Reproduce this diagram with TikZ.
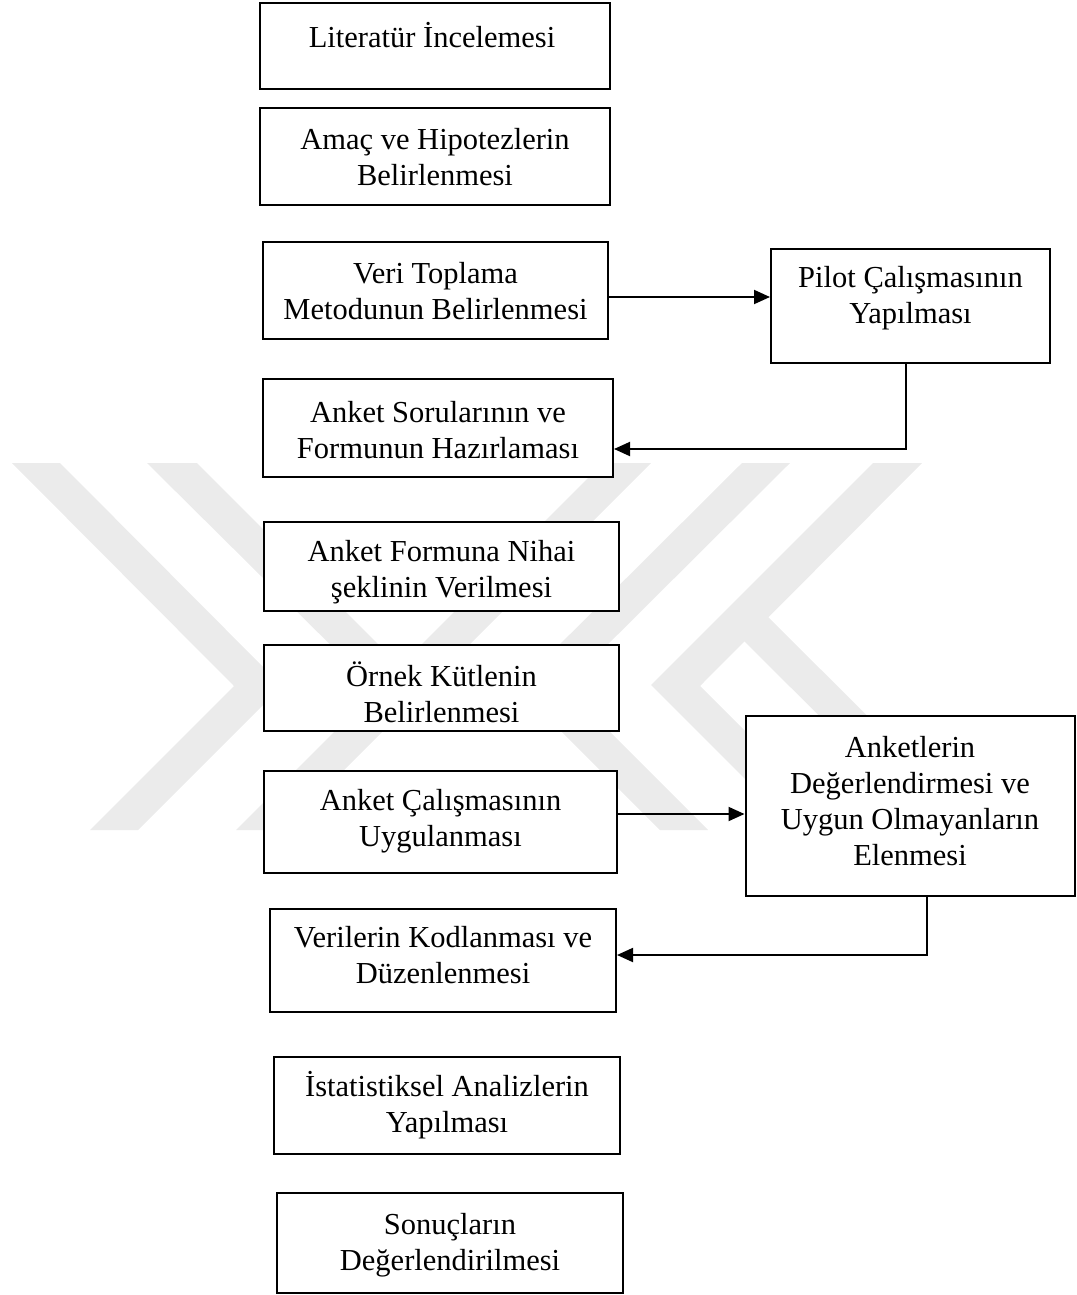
\documentclass[tikz,border=0pt]{standalone}
\usepackage{fontspec}
\setmainfont{Liberation Serif}
\usetikzlibrary{arrows.meta}
\tikzset{
  box/.style={draw=black, line width=2pt, fill=white, rectangle, inner sep=0pt},
  lbl/.style={align=center, inner sep=0pt, font=\fontsize{30.5}{36}\selectfont},
  arr/.style={line width=1.9pt, -{Triangle[length=16pt,width=14pt]}},
  wm/.style={fill=black!8, draw=none},
}
\begin{document}
\begin{tikzpicture}[x=1pt,y=-1pt]
\useasboundingbox (0,0) rectangle (1076,1295);
% faint watermark
\fill[wm] (12,463) -- (60,463) -- (282,686) -- (138,830) -- (90,830) -- (234,686) -- cycle;
\fill[wm] (147,463) -- (197,463) -- (423,689) -- (375,689) -- cycle;
\fill[wm] (603,463) -- (651,463) -- (284,830) -- (236,830) -- cycle;
\fill[wm] (742,463) -- (790,463) -- (565,687) -- (708,830) -- (660,830) -- (517,687) -- cycle;
\fill[wm] (873,463) -- (922,463) -- (700,686) -- (844,830) -- (796,830) -- (651,685) -- cycle;
\fill[wm] (768,617) -- (982,830) -- (934,830) -- (744,641) -- cycle;
% boxes
\node[box, minimum width=350, minimum height=86]  (b1) at (435,46) {};
\node[box, minimum width=350, minimum height=97]  (b2) at (435,156.5) {};
\node[box, minimum width=345, minimum height=97]  (b3) at (435.5,290.5) {};
\node[box, minimum width=350, minimum height=98]  (b4) at (438,428) {};
\node[box, minimum width=279, minimum height=114] (P)  at (910.5,306) {};
\node[box, minimum width=355, minimum height=89]  (b5) at (441.5,566.5) {};
\node[box, minimum width=355, minimum height=86]  (b6) at (441.5,688) {};
\node[box, minimum width=353, minimum height=102] (b7) at (440.5,822) {};
\node[box, minimum width=329, minimum height=180] (b8) at (910,806) {};
\node[box, minimum width=346, minimum height=103] (b9) at (443,960.5) {};
\node[box, minimum width=346, minimum height=97]  (b10) at (447,1105.5) {};
\node[box, minimum width=346, minimum height=100] (b11) at (450,1243) {};
% texts
\node[lbl] (t1) at (432,35) {Literatür İncelemesi};
\node[lbl] (t2) at (435,157.5) {Amaç ve Hipotezlerin\\Belirlenmesi};
\node[lbl] (t3) at (435.5,291) {Veri Toplama\\Metodunun Belirlenmesi};
\node[lbl] (t4) at (438,430.5) {Anket Sorularının ve\\Formunun Hazırlaması};
\node[lbl] (tP) at (910.5,298) {Pilot Çalışmasının\\Yapılması};
\node[lbl] (t5) at (441.5,572) {Anket Formuna Nihai\\şeklinin Verilmesi};
\node[lbl] (t6) at (441.5,692.5) {Örnek Kütlenin\\Belirlenmesi};
\node[lbl] (t7) at (440.5,821) {Anket Çalışmasının\\Uygulanması};
\node[lbl] (t8) at (910,801) {Anketlerin\\Değerlendirmesi ve\\Uygun Olmayanların\\Elenmesi};
\node[lbl] (t9) at (443,955) {Verilerin Kodlanması ve\\Düzenlenmesi};
\node[lbl] (t10) at (447,1105) {İstatistiksel Analizlerin\\Yapılması};
\node[lbl] (t11) at (450,1245) {Sonuçların\\Değerlendirilmesi};
% connectors
\coordinate (a1) at ([yshift=-6.5pt]b3.east);
\draw[arr] (a1) -- (a1 -| P.west);
\coordinate (a2) at ([xshift=-4.5pt]P.south);
\coordinate (a3) at ([yshift=-21pt]b4.east);
\draw[arr] (a2) |- (a3);
\coordinate (a4) at ([yshift=8pt]b7.east);
\draw[arr] (a4) -- (a4 -| b8.west);
\coordinate (a5) at ([xshift=17pt]b8.south);
\coordinate (a6) at ([yshift=5.5pt]b9.east);
\draw[arr] (a5) |- (a6);
\end{tikzpicture}
\end{document}
